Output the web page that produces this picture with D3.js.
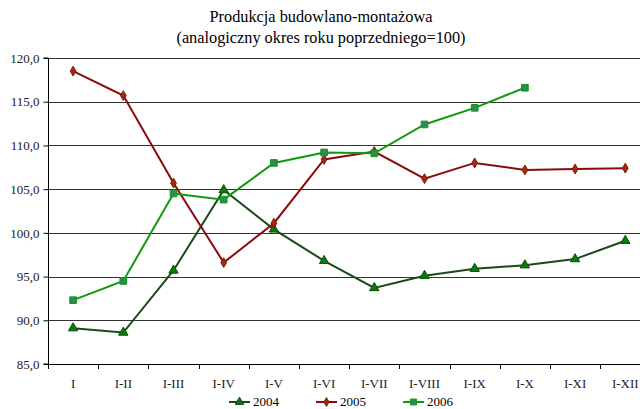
<!DOCTYPE html>
<html><head><meta charset="utf-8">
<script src="https://cdn.jsdelivr.net/npm/d3@7"></script>
<style>body{margin:0;background:#fff}svg{display:block}</style>
</head><body><svg id="c" width="640" height="409"></svg>
<script>
const categories = ["I","I-II","I-III","I-IV","I-V","I-VI","I-VII","I-VIII","I-IX","I-X","I-XI","I-XII"];
const s2004 = [89.1,88.6,95.7,104.9,100.4,96.8,93.7,95.1,95.9,96.3,97.0,99.1];
const s2005 = [118.5,115.7,105.7,96.6,101.1,108.4,109.3,106.2,108.0,107.2,107.3,107.4];
const s2006 = [92.3,94.5,104.5,103.8,108.0,109.2,109.1,112.4,114.3,116.6];
const yTicks = [85,90,95,100,105,110,115,120];
const titleLines = ["Produkcja budowlano-montażowa","(analogiczny okres roku poprzedniego=100)"];

const svg = d3.select("#c");
const font = "'Liberation Serif', 'DejaVu Serif', serif";
const L = 48, T = 58, B = 364, step = 50.2;
const x = d3.scaleBand().domain(categories).range([L, L + step*categories.length]);
const y = d3.scaleLinear().domain([85,120]).range([B, T]);

svg.selectAll("text.title").data(titleLines).join("text")
  .attr("x", 321).attr("y", (d,i)=>22+i*21).attr("text-anchor","middle")
  .attr("font-family", font).attr("font-size", 16.3).attr("fill","#000").text(d=>d);

// gridlines
svg.append("g").selectAll("line").data(yTicks.filter(t=>t>85)).join("line")
  .attr("x1", L).attr("x2", 640).attr("y1", d=>Math.round(y(d))+0.5).attr("y2", d=>Math.round(y(d))+0.5)
  .attr("stroke", "#333").attr("stroke-width", 1);

// y axis
const ya = svg.append("g").attr("transform",`translate(${L+0.5},0)`)
  .call(d3.axisLeft(y).tickValues(yTicks).tickSize(5).tickFormat(d=>d3.format(".1f")(d).replace(".",",")));
ya.select(".domain").attr("stroke","#000").attr("d",`M-5,${T}H0V${B}H-5`);
ya.selectAll("text").attr("font-family",font).attr("font-size",13).attr("fill","#222").attr("dx","-1");

// x axis
const xa = svg.append("g").attr("transform",`translate(0,${Math.round(B)+0.5})`)
  .call(d3.axisBottom(x).tickSize(0).tickPadding(14));
xa.select(".domain").attr("stroke","#000").attr("d",`M${L},0H640`);
xa.selectAll("text").attr("font-family",font).attr("font-size",13).attr("fill","#222");
svg.append("g").selectAll("line").data(d3.range(categories.length+1)).join("line")
  .attr("x1",d=>Math.round(L+d*step)+0.5).attr("x2",d=>Math.round(L+d*step)+0.5)
  .attr("y1",B).attr("y2",B+5).attr("stroke","#000");

const cx = c => x(c) + x.bandwidth()/2;
const series = [
  {name:"2004", data:s2004, line:"#1a4a1a", fill:"#0a7a0a", stroke:"#0b4d0b", shape:d3.symbolTriangle, size:38},
  {name:"2005", data:s2005, line:"#8b0a0a", fill:"#a52a0a", stroke:"#7a1a0a", shape:d3.symbolDiamond, size:28},
  {name:"2006", data:s2006, line:"#0e9a0e", fill:"#2e8b57", stroke:"#0e9a0e", shape:d3.symbolSquare, size:44}
];
const line = d3.line().x((d,i)=>cx(categories[i])).y(d=>y(d));
series.forEach(s=>{
  svg.append("path").attr("d", line(s.data)).attr("fill","none").attr("stroke",s.line).attr("stroke-width",2);
  svg.append("g").selectAll("path").data(s.data).join("path")
    .attr("transform",(d,i)=>`translate(${cx(categories[i])},${y(d)})`)
    .attr("d", d3.symbol(s.shape, s.size)).attr("fill", s.fill).attr("stroke", s.stroke).attr("stroke-width",1);
});

// legend
const lx = [229, 316, 403];
series.forEach((s,i)=>{
  const g = svg.append("g").attr("transform",`translate(${lx[i]},402)`);
  g.append("line").attr("x1",0).attr("x2",21).attr("stroke",s.line).attr("stroke-width",2);
  g.append("path").attr("transform","translate(10.5,0)").attr("d", d3.symbol(s.shape, s.size*0.8)).attr("fill",s.fill).attr("stroke",s.stroke);
  g.append("text").attr("x",24).attr("y",4).attr("font-family",font).attr("font-size",13).attr("fill","#000").text(s.name);
});
</script></body></html>
